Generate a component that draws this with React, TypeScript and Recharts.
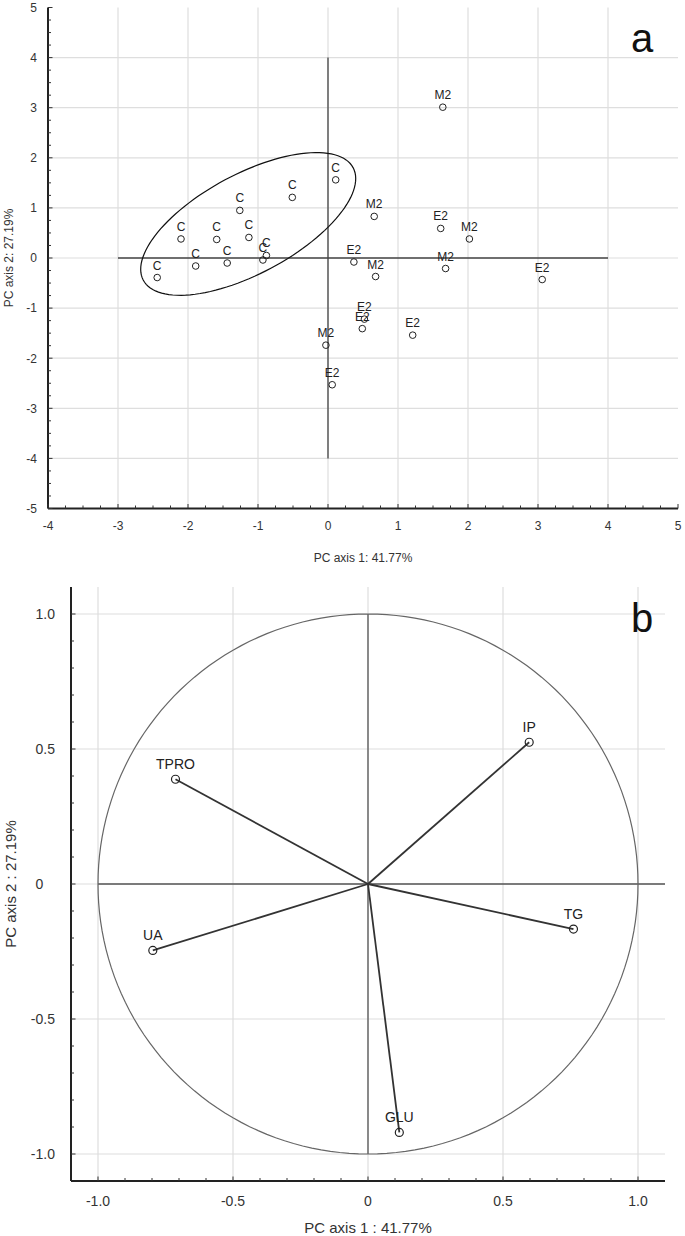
import { Label, ReferenceLine, Scatter, ScatterChart, XAxis, YAxis } from 'recharts';

const FONT = '"Liberation Sans", Arial, Helvetica, sans-serif';
const INK = '#222222';
const TICK_TEXT = '#333333';
const GRID = '#dedede';

// ---- panel a: PCA scores ----
const GROUP_C = [
  { x: -2.44, y: -0.39 },
  { x: -2.1, y: 0.38 },
  { x: -1.89, y: -0.16 },
  { x: -1.59, y: 0.37 },
  { x: -1.44, y: -0.1 },
  { x: -1.26, y: 0.95 },
  { x: -1.13, y: 0.41 },
  { x: -0.93, y: -0.04 },
  { x: -0.88, y: 0.05 },
  { x: -0.51, y: 1.21 },
  { x: 0.11, y: 1.56 },
];
const GROUP_M2 = [
  { x: 1.64, y: 3.01 },
  { x: 0.66, y: 0.83 },
  { x: 2.02, y: 0.38 },
  { x: 0.68, y: -0.37 },
  { x: 1.68, y: -0.21 },
  { x: -0.03, y: -1.74 },
];
const GROUP_E2 = [
  { x: 1.61, y: 0.59 },
  { x: 0.37, y: -0.08 },
  { x: 3.06, y: -0.43 },
  { x: 0.52, y: -1.22 },
  { x: 0.49, y: -1.41 },
  { x: 1.21, y: -1.54 },
  { x: 0.06, y: -2.53 },
];
const A_X_DOMAIN = [-4, 5];
const A_Y_DOMAIN = [-5, 5];
const A_GRID_X = [-3, -2, -1, 0, 1, 2, 3, 4];
const A_GRID_Y = [-4, -3, -2, -1, 0, 1, 2, 3, 4];
// group C confidence ellipse: centre, half major axis, half minor axis (data units)
const ELLIPSE = { cx: -1.14, cy: 0.68, ax: 1.5, ay: 1.12, bx: 0.33, by: -0.88 };

// ---- panel b: loadings ----
const LOADINGS = [
  { name: 'TPRO', x: -0.713, y: 0.388 },
  { name: 'IP', x: 0.597, y: 0.525 },
  { name: 'UA', x: -0.797, y: -0.246 },
  { name: 'TG', x: 0.761, y: -0.167 },
  { name: 'GLU', x: 0.116, y: -0.92 },
];
const B_DOMAIN = [-1.1, 1.1];
const B_GRID = [-1, -0.5, 0, 0.5, 1];

const steps = (from: number, to: number, perUnit: number) => {
  const out: number[] = [];
  for (let i = Math.round(from * perUnit); i <= Math.round(to * perUnit); i++) out.push(i / perUnit);
  return out;
};

const A_X_TICKS = steps(-4, 5, 4);
const A_Y_TICKS = steps(-5, 5, 4);
const B_TICKS = steps(-1, 1, 10);

const ellipsePoints = Array.from({ length: 121 }, (_, i) => {
  const t = (i / 120) * 2 * Math.PI;
  return {
    x: ELLIPSE.cx + ELLIPSE.ax * Math.cos(t) + ELLIPSE.bx * Math.sin(t),
    y: ELLIPSE.cy + ELLIPSE.ay * Math.cos(t) + ELLIPSE.by * Math.sin(t),
  };
});
const unitCircle = Array.from({ length: 181 }, (_, i) => {
  const t = (i / 180) * 2 * Math.PI;
  return { x: Math.cos(t), y: Math.sin(t) };
});

type Side = 'bottom' | 'top' | 'left' | 'right';

function makeTick(
  side: Side,
  isMajor: (v: number) => boolean,
  label?: (v: number, x: number, y: number) => JSX.Element,
) {
  return (props: any) => {
    const { x, y, payload } = props;
    const v = Number(payload.value);
    const major = isMajor(v);
    const len = major ? 4.5 : 3;
    let x2 = x;
    let y2 = y;
    if (side === 'bottom') y2 = y - len;
    if (side === 'top') y2 = y + len;
    if (side === 'left') x2 = x + len;
    if (side === 'right') x2 = x - len;
    return (
      <g>
        <line x1={x} y1={y} x2={x2} y2={y2} stroke="#333" strokeWidth={1} />
        {label && major ? label(v, x, y) : null}
      </g>
    );
  };
}

const isInt = (v: number) => Math.abs(v - Math.round(v)) < 1e-9;
const isHalf = (v: number) => Math.abs(v * 2 - Math.round(v * 2)) < 1e-9;
const fmtB = (v: number) => (Math.abs(v) < 1e-9 ? '0' : v.toFixed(1));

const tickText = { fill: TICK_TEXT, fontFamily: FONT };

function SampleMark(props: any) {
  const { cx, cy, group } = props;
  return (
    <g>
      <circle cx={cx} cy={cy} r={3.3} fill="none" stroke={INK} strokeWidth={1} />
      <text x={cx} y={cy - 8} textAnchor="middle" fontSize={12} fill={INK} fontFamily={FONT}>
        {group}
      </text>
    </g>
  );
}

function LoadingMark(props: any) {
  const { cx, cy, payload } = props;
  return (
    <g>
      <circle cx={cx} cy={cy} r={4} fill="none" stroke={INK} strokeWidth={1.2} />
      <text x={cx} y={cy - 10} textAnchor="middle" fontSize={14} fill={INK} fontFamily={FONT}>
        {payload.name}
      </text>
    </g>
  );
}

function XTitle({ vb, dy, size, text }: any) {
  const box = vb || { x: 0, y: 0, width: 0, height: 0 };
  return (
    <text x={box.x + box.width / 2} y={box.y + dy} textAnchor="middle" fontSize={size} fill={TICK_TEXT} fontFamily={FONT}>
      {text}
    </text>
  );
}

function YTitle({ vb, dx, size, text }: any) {
  const box = vb || { x: 0, y: 0, width: 0, height: 0 };
  const x = box.x + dx;
  const y = box.y + box.height / 2;
  return (
    <text x={x} y={y} transform={`rotate(-90 ${x} ${y})`} textAnchor="middle" fontSize={size} fill={TICK_TEXT} fontFamily={FONT}>
      {text}
    </text>
  );
}

const noShape = () => <g />;

function ScoresChart() {
  return (
    <ScatterChart width={685} height={575} margin={{ top: 7.5, right: 7, bottom: 6.5, left: 0 }}>
      <XAxis
        type="number"
        dataKey="x"
        domain={A_X_DOMAIN}
        allowDataOverflow
        ticks={A_X_TICKS}
        interval={0}
        height={60}
        tickSize={0}
        tickMargin={0}
        tickLine={false}
        axisLine={{ stroke: INK, strokeWidth: 2 }}
        tick={makeTick('bottom', isInt, (v, x, y) => (
          <text x={x} y={y + 21} textAnchor="middle" fontSize={12} {...tickText}>{v}</text>
        ))}
      >
        <Label content={(p: any) => <XTitle vb={p.viewBox} dy={53} size={12} text="PC axis 1: 41.77%" />} />
      </XAxis>
      <XAxis
        xAxisId="top"
        orientation="top"
        type="number"
        domain={A_X_DOMAIN}
        allowDataOverflow
        ticks={A_X_TICKS}
        interval={0}
        height={0}
        tickSize={0}
        tickMargin={0}
        tickLine={false}
        axisLine={{ stroke: '#333', strokeWidth: 1.5 }}
        tick={makeTick('top', isInt)}
      />
      <YAxis
        type="number"
        dataKey="y"
        domain={A_Y_DOMAIN}
        allowDataOverflow
        ticks={A_Y_TICKS}
        interval={0}
        width={48}
        tickSize={0}
        tickMargin={0}
        tickLine={false}
        axisLine={{ stroke: INK, strokeWidth: 2 }}
        tick={makeTick('left', isInt, (v, x, y) => (
          <text x={x - 11} y={y + 4.3} textAnchor="end" fontSize={12} {...tickText}>{v}</text>
        ))}
      >
        <Label content={(p: any) => <YTitle vb={p.viewBox} dx={13} size={12} text="PC axis 2: 27.19%" />} />
      </YAxis>
      <YAxis
        yAxisId="right"
        orientation="right"
        type="number"
        domain={A_Y_DOMAIN}
        allowDataOverflow
        ticks={A_Y_TICKS}
        interval={0}
        width={0}
        tickSize={0}
        tickMargin={0}
        tickLine={false}
        axisLine={{ stroke: '#333', strokeWidth: 1.5 }}
        tick={makeTick('right', isInt)}
      />
      {A_GRID_X.map((v) => (
        <ReferenceLine key={`gx${v}`} x={v} stroke={GRID} strokeWidth={1.2} />
      ))}
      {A_GRID_Y.map((v) => (
        <ReferenceLine key={`gy${v}`} y={v} stroke={GRID} strokeWidth={1.2} />
      ))}
      <ReferenceLine segment={[{ x: -3, y: 0 }, { x: 4, y: 0 }]} stroke="#444" strokeWidth={1.3} />
      <ReferenceLine segment={[{ x: 0, y: -4 }, { x: 0, y: 4 }]} stroke="#444" strokeWidth={1.3} />
      <Scatter
        data={ellipsePoints}
        line={{ stroke: '#111', strokeWidth: 1.2, fill: 'none' }}
        shape={noShape}
        legendType="none"
        isAnimationActive={false}
      />
      <Scatter data={GROUP_C} shape={(p: any) => <SampleMark {...p} group="C" />} isAnimationActive={false} />
      <Scatter data={GROUP_M2} shape={(p: any) => <SampleMark {...p} group="M2" />} isAnimationActive={false} />
      <Scatter data={GROUP_E2} shape={(p: any) => <SampleMark {...p} group="E2" />} isAnimationActive={false} />
    </ScatterChart>
  );
}

function LoadingsChart() {
  return (
    <ScatterChart width={685} height={661} margin={{ top: 12, right: 20, bottom: 5, left: 0 }}>
      <XAxis
        type="number"
        dataKey="x"
        domain={B_DOMAIN}
        allowDataOverflow
        ticks={B_TICKS}
        interval={0}
        height={50}
        tickSize={0}
        tickMargin={0}
        tickLine={false}
        axisLine={{ stroke: INK, strokeWidth: 2 }}
        tick={makeTick('bottom', isHalf, (v, x, y) => (
          <text x={x} y={y + 25} textAnchor="middle" fontSize={14} {...tickText}>{fmtB(v)}</text>
        ))}
      >
        <Label content={(p: any) => <XTitle vb={p.viewBox} dy={52} size={15} text="PC axis 1 : 41.77%" />} />
      </XAxis>
      <XAxis
        xAxisId="top"
        orientation="top"
        type="number"
        domain={B_DOMAIN}
        allowDataOverflow
        ticks={B_TICKS}
        interval={0}
        height={0}
        tickSize={0}
        tickMargin={0}
        tickLine={false}
        axisLine={{ stroke: '#333', strokeWidth: 1.5 }}
        tick={makeTick('top', isHalf)}
      />
      <YAxis
        type="number"
        dataKey="y"
        domain={B_DOMAIN}
        allowDataOverflow
        ticks={B_TICKS}
        interval={0}
        width={71}
        tickSize={0}
        tickMargin={0}
        tickLine={false}
        axisLine={{ stroke: INK, strokeWidth: 2 }}
        tick={makeTick('left', isHalf, (v, x, y) => (
          <text x={x - 35.5 - (v < 0 ? 4.7 : 0)} y={y + 5} textAnchor="start" fontSize={14} {...tickText}>
            {fmtB(v)}
          </text>
        ))}
      >
        <Label content={(p: any) => <YTitle vb={p.viewBox} dx={15.5} size={15} text="PC axis 2 : 27.19%" />} />
      </YAxis>
      <YAxis
        yAxisId="right"
        orientation="right"
        type="number"
        domain={B_DOMAIN}
        allowDataOverflow
        ticks={B_TICKS}
        interval={0}
        width={0}
        tickSize={0}
        tickMargin={0}
        tickLine={false}
        axisLine={{ stroke: '#333', strokeWidth: 1.5 }}
        tick={makeTick('right', isHalf)}
      />
      {B_GRID.map((v) => (
        <ReferenceLine key={`gx${v}`} x={v} stroke={GRID} strokeWidth={1.2} />
      ))}
      {B_GRID.map((v) => (
        <ReferenceLine key={`gy${v}`} y={v} stroke={GRID} strokeWidth={1.2} />
      ))}
      <ReferenceLine segment={[{ x: -1, y: 0 }, { x: 1.1, y: 0 }]} stroke="#555" strokeWidth={1.3} />
      <ReferenceLine segment={[{ x: 0, y: -1 }, { x: 0, y: 1 }]} stroke="#555" strokeWidth={1.3} />
      <Scatter
        data={unitCircle}
        line={{ stroke: '#666', strokeWidth: 1.2, fill: 'none' }}
        shape={noShape}
        legendType="none"
        isAnimationActive={false}
      />
      {LOADINGS.map((d) => (
        <ReferenceLine
          key={`v${d.name}`}
          segment={[{ x: 0, y: 0 }, { x: d.x, y: d.y }]}
          stroke="#333"
          strokeWidth={1.8}
        />
      ))}
      <Scatter data={LOADINGS} shape={(p: any) => <LoadingMark {...p} />} isAnimationActive={false} />
    </ScatterChart>
  );
}

export default function App() {
  return (
    <div style={{ position: 'absolute', left: 0, top: 0, width: 685, height: 1236, background: '#fff' }}>
      <div style={{ position: 'absolute', left: 0, top: 0 }}>
        <ScoresChart />
      </div>
      <div style={{ position: 'absolute', left: 0, top: 575 }}>
        <LoadingsChart />
      </div>
      <svg
        width={685}
        height={1236}
        style={{ position: 'absolute', left: 0, top: 0, pointerEvents: 'none' }}
      >
        <text x={642} y={52} textAnchor="middle" fontSize={40} fill="#111" fontFamily={FONT}>a</text>
        <text x={642} y={632} textAnchor="middle" fontSize={40} fill="#111" fontFamily={FONT}>b</text>
      </svg>
    </div>
  );
}
